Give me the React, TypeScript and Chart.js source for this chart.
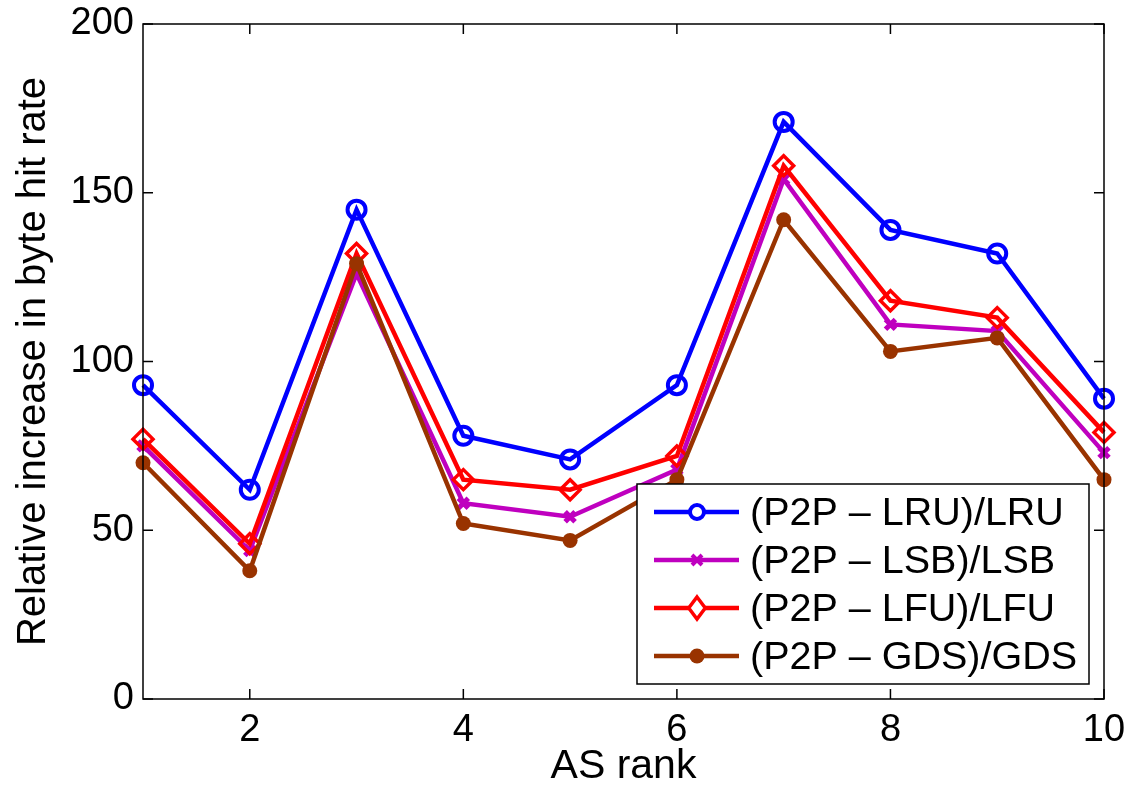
import React, { useEffect, useRef } from "react";
import { Chart, registerables } from "chart.js";
Chart.register(...registerables);

const asRank = [1, 2, 3, 4, 5, 6, 7, 8, 9, 10];
const lruValues = [93, 62, 145, 78, 71, 93, 171, 139, 132, 89];
const lsbValues = [75, 44, 126, 58, 54, 68, 154, 111, 109, 73];
const lfuValues = [77, 46, 132, 65, 62, 72, 158, 118, 113, 79];
const gdsValues = [70, 38, 129, 52, 47, 65, 142, 103, 107, 65];
const xTicks = [2, 4, 6, 8, 10];
const yTicks = [0, 50, 100, 150, 200];
const seriesLabels = ["(P2P \u2013 LRU)/LRU", "(P2P \u2013 LSB)/LSB", "(P2P \u2013 LFU)/LFU", "(P2P \u2013 GDS)/GDS"];
const seriesColors = ["#0000FF", "#BF00BF", "#FF0000", "#993300"];

const FONT = "'Liberation Sans', Arial, Helvetica, sans-serif";

function drawMarker(ctx: CanvasRenderingContext2D, idx: number, x: number, y: number) {
  const c = seriesColors[idx];
  ctx.save();
  ctx.strokeStyle = c;
  ctx.fillStyle = c;
  if (idx === 0) {
    ctx.lineWidth = 4;
    ctx.beginPath();
    ctx.arc(x, y, 7, 0, Math.PI * 2);
    ctx.fillStyle = "#fff";
    ctx.fill();
    ctx.stroke();
  } else if (idx === 1) {
    ctx.lineWidth = 4;
    const r = 5;
    ctx.beginPath();
    ctx.moveTo(x - r, y - r);
    ctx.lineTo(x + r, y + r);
    ctx.moveTo(x + r, y - r);
    ctx.lineTo(x - r, y + r);
    ctx.stroke();
  } else if (idx === 2) {
    ctx.lineWidth = 3.5;
    const r = 11;
    ctx.beginPath();
    ctx.moveTo(x, y - r);
    ctx.lineTo(x + r * 0.75, y);
    ctx.lineTo(x, y + r);
    ctx.lineTo(x - r * 0.75, y);
    ctx.closePath();
    ctx.fillStyle = "#fff";
    ctx.fill();
    ctx.stroke();
  } else {
    ctx.beginPath();
    ctx.arc(x, y, 7.5, 0, Math.PI * 2);
    ctx.fill();
  }
  ctx.restore();
}

const framePlugin = {
  id: "matlabFrame",
  afterDatasetsDraw(chart: any) {
    const { ctx, chartArea } = chart;
    const { left, right, top, bottom } = chartArea;
    const xs = chart.scales.x;
    const ys = chart.scales.y;
    ctx.save();
    ctx.strokeStyle = "#000";
    ctx.lineWidth = 1.5;
    ctx.strokeRect(left, top, right - left, bottom - top);
    const tl = 10;
    ctx.beginPath();
    xTicks.forEach((v) => {
      const px = xs.getPixelForValue(v);
      ctx.moveTo(px, bottom);
      ctx.lineTo(px, bottom - tl);
      ctx.moveTo(px, top);
      ctx.lineTo(px, top + tl);
    });
    yTicks.forEach((v) => {
      const py = ys.getPixelForValue(v);
      ctx.moveTo(left, py);
      ctx.lineTo(left + tl, py);
      ctx.moveTo(right, py);
      ctx.lineTo(right - tl, py);
    });
    ctx.stroke();
    ctx.restore();
  },
  afterDraw(chart: any) {
    const { ctx } = chart;
    const bx = 637, by = 484, bw = 452, bh = 200;
    ctx.save();
    ctx.fillStyle = "#fff";
    ctx.fillRect(bx, by, bw, bh);
    ctx.strokeStyle = "#000";
    ctx.lineWidth = 1.5;
    ctx.strokeRect(bx, by, bw, bh);
    ctx.font = `39.5px ${FONT}`;
    ctx.textBaseline = "middle";
    ctx.textAlign = "left";
    seriesLabels.forEach((lab, i) => {
      const y = 512 + i * 48;
      ctx.strokeStyle = seriesColors[i];
      ctx.lineWidth = 4.5;
      ctx.beginPath();
      ctx.moveTo(654, y);
      ctx.lineTo(739, y);
      ctx.stroke();
      drawMarker(ctx, i, 697, y);
      ctx.fillStyle = "#000";
      ctx.fillText(lab, 750, y + 2);
    });
    ctx.restore();
  },
};

export default function App() {
  const ref = useRef<HTMLCanvasElement | null>(null);
  useEffect(() => {
    if (!ref.current) return;
    const mk = (data: number[]) => data.map((v, i) => ({ x: asRank[i], y: v }));
    const chart = new Chart(ref.current, {
      type: "line",
      data: {
        datasets: [
          {
            label: seriesLabels[0],
            data: mk(lruValues),
            borderColor: seriesColors[0],
            backgroundColor: "#fff",
            borderWidth: 4.5,
            pointStyle: "circle",
            pointRadius: 9,
            pointBorderWidth: 4,
            pointBackgroundColor: "rgba(255,255,255,0)",
            pointBorderColor: seriesColors[0],
            order: 4,
            clip: false,
          },
          {
            label: seriesLabels[1],
            data: mk(lsbValues),
            borderColor: seriesColors[1],
            backgroundColor: seriesColors[1],
            borderWidth: 4.5,
            pointStyle: "crossRot",
            pointRadius: 7,
            pointBorderWidth: 5,
            pointBorderColor: seriesColors[1],
            order: 3,
            clip: false,
          },
          {
            label: seriesLabels[2],
            data: mk(lfuValues),
            borderColor: seriesColors[2],
            backgroundColor: "#fff",
            borderWidth: 4.5,
            pointStyle: "rectRot",
            pointRadius: 10,
            pointBorderWidth: 3.5,
            pointBackgroundColor: "rgba(255,255,255,0)",
            pointBorderColor: seriesColors[2],
            order: 2,
            clip: false,
          },
          {
            label: seriesLabels[3],
            data: mk(gdsValues),
            borderColor: seriesColors[3],
            backgroundColor: seriesColors[3],
            borderWidth: 4.5,
            pointStyle: "circle",
            pointRadius: 7.5,
            pointBorderWidth: 0,
            pointBackgroundColor: seriesColors[3],
            order: 1,
            clip: false,
          },
        ],
      },
      options: {
        responsive: false,
        animation: false,
        layout: { padding: { left: 0, right: 25, top: 24, bottom: 0 } },
        plugins: { legend: { display: false }, tooltip: { enabled: false } },
        elements: { line: { tension: 0 } },
        scales: {
          x: {
            type: "linear",
            min: 1,
            max: 10,
            grid: { display: false, drawTicks: false },
            border: { display: false },
            afterBuildTicks: (s: any) => {
              s.ticks = xTicks.map((v) => ({ value: v }));
            },
            afterFit: (s: any) => {
              s.height = 92;
              s.paddingLeft = 0;
              s.paddingRight = 0;
            },
            ticks: {
              color: "#000",
              font: { family: FONT, size: 38 },
              padding: 9,
              maxRotation: 0,
              autoSkip: false,
            },
            title: {
              display: true,
              text: "AS rank",
              color: "#000",
              font: { family: FONT, size: 41 },
              padding: { top: 0, bottom: 0 },
            },
          },
          y: {
            type: "linear",
            min: 0,
            max: 200,
            grid: { display: false, drawTicks: false },
            border: { display: false },
            afterBuildTicks: (s: any) => {
              s.ticks = yTicks.map((v) => ({ value: v }));
            },
            afterFit: (s: any) => {
              s.width = 143;
              s.paddingTop = 0;
              s.paddingBottom = 0;
            },
            ticks: {
              color: "#000",
              font: { family: FONT, size: 38 },
              padding: 9,
            },
            title: {
              display: true,
              text: "Relative increase in byte hit rate",
              color: "#000",
              font: { family: FONT, size: 40 },
              padding: { top: 10, bottom: 0 },
            },
          },
        },
      },
      plugins: [framePlugin],
    } as any);
    return () => chart.destroy();
  }, []);
  return (
    <div style={{ position: "fixed", left: 0, top: 0, width: 1129, height: 791, background: "#fff" }}>
      <canvas ref={ref} width={1129} height={791} style={{ display: "block" }} />
    </div>
  );
}
